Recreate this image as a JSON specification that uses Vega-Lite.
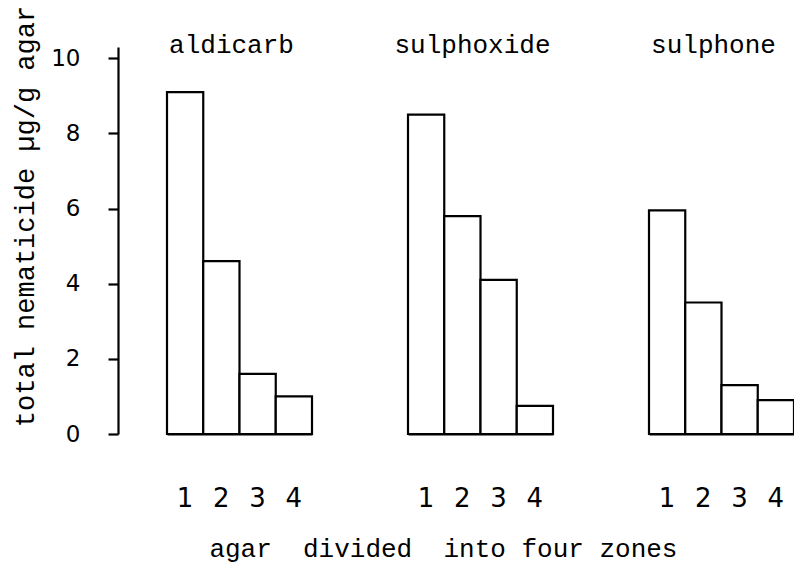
{
  "$schema": "https://vega.github.io/schema/vega-lite/v6.json",
  "background": "white",
  "padding": {"left": 11, "top": 5, "right": 0, "bottom": 12},
  "data": {
    "values": [
      {"compound": "aldicarb", "zone": 1, "value": 9.1},
      {"compound": "aldicarb", "zone": 2, "value": 4.6},
      {"compound": "aldicarb", "zone": 3, "value": 1.6},
      {"compound": "aldicarb", "zone": 4, "value": 1.0},
      {"compound": "sulphoxide", "zone": 1, "value": 8.5},
      {"compound": "sulphoxide", "zone": 2, "value": 5.8},
      {"compound": "sulphoxide", "zone": 3, "value": 4.1},
      {"compound": "sulphoxide", "zone": 4, "value": 0.75},
      {"compound": "sulphone", "zone": 1, "value": 5.95},
      {"compound": "sulphone", "zone": 2, "value": 3.5},
      {"compound": "sulphone", "zone": 3, "value": 1.3},
      {"compound": "sulphone", "zone": 4, "value": 0.9}
    ]
  },
  "facet": {
    "column": {
      "field": "compound",
      "type": "nominal",
      "sort": ["aldicarb", "sulphoxide", "sulphone"],
      "header": {"title": null, "labels": false}
    }
  },
  "spacing": 96,
  "bounds": "flush",
  "spec": {
    "width": 145,
    "height": 387,
    "layer": [
      {
        "mark": {"type": "bar", "fill": "white", "stroke": "black", "strokeWidth": 2.2},
        "encoding": {
          "x": {
            "field": "zone",
            "type": "ordinal",
            "scale": {"paddingInner": 0, "paddingOuter": 0},
            "axis": {
              "title": null,
              "labelAngle": 0,
              "ticks": false,
              "domain": true,
              "domainColor": "black",
              "domainWidth": 2.2,
              "labelPadding": 51,
              "labelFont": "DejaVu Sans",
              "labelFontSize": 26,
              "labelColor": "black"
            }
          },
          "y": {
            "field": "value",
            "type": "quantitative",
            "scale": {"domain": [0, 10.3], "nice": false},
            "axis": {
              "title": "total nematicide µg/g agar",
              "titleFont": "Liberation Mono",
              "titleFontSize": 27,
              "titleFontWeight": "normal",
              "titleColor": "black",
              "titlePadding": 11,
              "titleY": 169,
              "values": [0, 2, 4, 6, 8, 10],
              "grid": false,
              "offset": 49,
              "domainColor": "black",
              "domainWidth": 2.2,
              "tickColor": "black",
              "tickWidth": 2.2,
              "tickSize": 10,
              "labelPadding": 28,
              "labelFont": "DejaVu Sans",
              "labelFontSize": 23,
              "labelColor": "black"
            }
          }
        }
      },
      {
        "transform": [{"filter": "datum.zone == 2"}],
        "mark": {"type": "text", "font": "Liberation Mono", "fontSize": 26, "baseline": "alphabetic", "align": "center", "color": "black", "dx": -8},
        "encoding": {
          "x": {"field": "zone", "type": "ordinal", "bandPosition": 1},
          "y": {"datum": 10.15},
          "text": {"field": "compound"}
        }
      }
    ]
  },
  "title": {
    "text": "agar\u00a0\u00a0divided\u00a0\u00a0into four zones",
    "orient": "bottom",
    "anchor": "middle",
    "font": "Liberation Mono",
    "fontSize": 26,
    "fontWeight": "normal",
    "color": "black",
    "offset": 25,
    "dx": 40
  },
  "config": {"view": {"stroke": null}}
}
